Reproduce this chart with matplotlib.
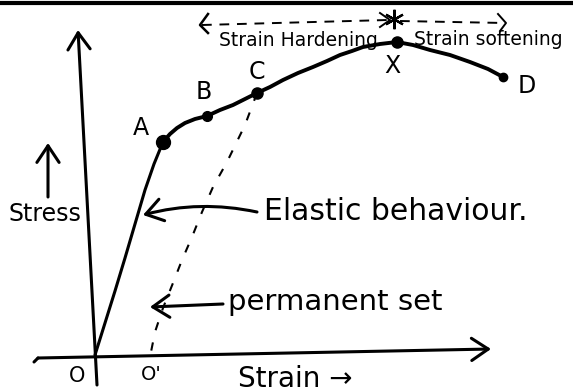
import matplotlib.pyplot as plt

# sheet coordinates (pixels, y grows downward)
W, H = 573, 392

# elastic part O -> A
elastic_x = [95, 105, 115, 125, 135, 145, 154, 163]
elastic_y = [355, 323, 291, 258, 224, 190, 164, 142]

# plastic part A -> B -> C -> X -> D
plastic_x = [163, 170, 177, 185, 195, 207, 220, 233, 245, 257, 270, 283, 298,
             313, 327, 340, 352, 363, 380, 397, 413, 430, 450, 470, 488, 503]
plastic_y = [142, 134, 128, 123, 119, 116, 110, 105, 99, 93, 87, 80, 73,
             67, 61, 55, 51, 47, 44, 42, 45, 50, 55, 62, 69, 77]

# unloading line from C down to O'
unload_x = [257, 245, 227, 213, 202, 192, 182, 173, 163, 155, 151]
unload_y = [93, 125, 162, 187, 212, 237, 260, 283, 308, 332, 352]

# marked points and their labels
point_names = ['A', 'B', 'C', 'X', 'D']
point_x = [163, 207, 257, 397, 503]
point_y = [142, 116, 93, 42, 77]
point_size = [10, 7, 8, 8, 6]
label_x = [141, 204, 257, 392, 527]
label_y = [128, 92, 72, 66, 86]

# axes
y_axis = [(97, 385), (78, 30)]
x_axis = [(38, 358), (491, 349)]

fig = plt.figure(figsize=(W / 100, H / 100), dpi=100)
ax = fig.add_axes([0, 0, 1, 1])
ax.set_xlim(0, W)
ax.set_ylim(H, 0)
ax.axis('off')

ink = '#000000'
lw = 2.2
arrow = dict(arrowstyle='->,head_length=0.6,head_width=0.4', color=ink,
             lw=lw, mutation_scale=20, shrinkA=0, shrinkB=0)

# border line along the top
ax.plot([0, W], [3, 3], color=ink, lw=3, solid_capstyle='butt')

# stress and strain axes
ax.annotate('', xy=y_axis[1], xytext=y_axis[0], arrowprops=arrow)
ax.annotate('', xy=x_axis[1], xytext=x_axis[0], arrowprops=arrow)
ax.plot([38, 34], [358, 362], color=ink, lw=lw, solid_capstyle='round')

# stress-strain curve
ax.plot(elastic_x, elastic_y, color=ink, lw=lw, solid_capstyle='round', solid_joinstyle='round')
ax.plot(plastic_x, plastic_y, color=ink, lw=2.8, solid_capstyle='round', solid_joinstyle='round')
ax.plot(unload_x, unload_y, color=ink, lw=1.5, ls=(0, (4, 6)))

for name, px, py, s, lx, ly in zip(point_names, point_x, point_y, point_size,
                                   label_x, label_y):
    ax.plot(px, py, 'o', color=ink, ms=s)
    ax.text(lx, ly, name, fontsize=17, ha='center', va='center', color=ink)

# origin labels
ax.text(77, 376, 'O', fontsize=15, ha='center', va='center')
ax.text(151, 375, "O'", fontsize=14, ha='center', va='center')

# elastic behaviour callout
ax.annotate('', xy=(143, 215), xytext=(257, 212),
            arrowprops=dict(arrow, connectionstyle='arc3,rad=0.12'))
ax.text(264, 211, 'Elastic behaviour.', fontsize=21.5, ha='left', va='center')

# permanent set callout
ax.annotate('', xy=(150, 307), xytext=(223, 304), arrowprops=arrow)
ax.text(228, 302, 'permanent set', fontsize=21, ha='left', va='center')

# stress label with arrow
ax.annotate('', xy=(48, 143), xytext=(48, 197), arrowprops=arrow)
ax.text(8, 214, 'Stress', fontsize=17, ha='left', va='center')

# strain label
ax.text(238, 379, 'Strain \u2192', fontsize=20, ha='left', va='center')

# strain hardening / softening ranges
ax.plot([202, 388], [25, 20], color=ink, lw=1.4, ls=(0, (5, 4)))
ax.plot([400, 505], [21, 23], color=ink, lw=1.4, ls=(0, (5, 4)))
ax.plot([208, 200, 208], [14, 25, 33], color=ink, lw=1.8)
ax.plot([380, 390, 380], [13, 20, 27], color=ink, lw=1.4)
ax.plot([498, 506, 500], [14, 23, 31], color=ink, lw=1.4)
ax.plot(394, 19, marker=(6, 2, 0), ms=14, color=ink, mew=1.6)
ax.text(219, 40, 'Strain Hardening', fontsize=13.5, ha='left', va='center')
ax.text(414, 39, 'Strain softening', fontsize=13.5, ha='left', va='center')

fig.savefig('out.png', dpi=100)
